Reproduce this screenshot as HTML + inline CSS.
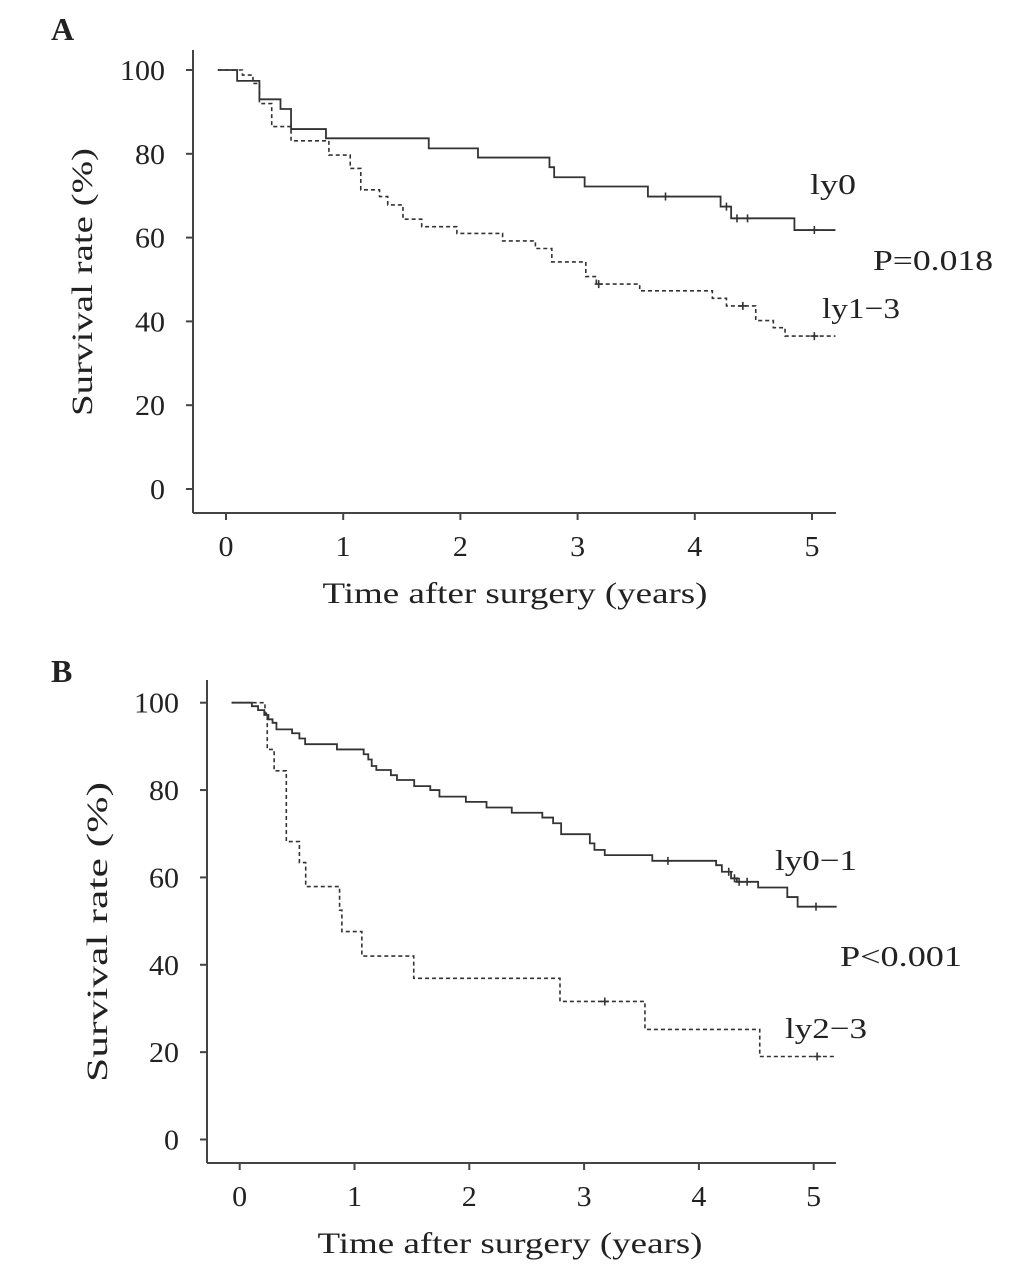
<!DOCTYPE html>
<html><head><meta charset="utf-8"><style>
body{margin:0;background:#fff}
svg{display:block}
text{font-family:"Liberation Serif",serif;fill:#222}
</style></head><body>
<svg id="c" width="1033" height="1267" viewBox="0 0 1033 1267"></svg>
<script>
// Panel A data: [time (years), survival (%)] step points
const aLy0 = [[0,100],[0.095,97.4],[0.285,93.0],[0.465,90.7],[0.555,85.9],[0.853,83.7],[1.73,81.3],[2.15,79.1],[2.76,76.8],[2.80,74.4],[3.06,72.2],[3.60,69.8],[4.22,67.4],[4.31,64.6],[4.85,61.8]];
const aLy0Censor = [3.75,4.27,4.36,4.45,5.02];
const aLy13 = [[0,100],[0.14,98.8],[0.23,96.8],[0.285,92.0],[0.39,86.5],[0.555,83.1],[0.878,79.7],[1.06,76.5],[1.15,71.4],[1.31,69.8],[1.38,67.8],[1.51,64.4],[1.67,62.6],[1.97,61.0],[2.36,59.2],[2.64,57.4],[2.78,54.2],[3.07,50.7],[3.16,48.9],[3.53,47.3],[4.15,45.5],[4.27,43.7],[4.52,40.2],[4.67,38.5],[4.77,36.5]];
const aLy13Censor = [3.18,4.41,5.02];
// Panel B data
const bLy01 = [[0,100],[0.106,99.2],[0.16,98.3],[0.214,97.2],[0.25,96.2],[0.286,95.4],[0.32,93.9],[0.456,93.0],[0.52,91.8],[0.57,90.5],[0.847,89.3],[1.08,88.2],[1.12,87.0],[1.15,85.5],[1.19,84.6],[1.317,83.4],[1.37,82.3],[1.52,80.9],[1.66,80.0],[1.74,78.5],[1.97,77.3],[2.15,76.0],[2.37,74.8],[2.636,73.7],[2.73,72.4],[2.80,69.9],[3.05,67.8],[3.09,66.3],[3.18,65.1],[3.594,63.8],[4.15,62.8],[4.2,61.3],[4.28,59.8],[4.33,59.0],[4.516,57.7],[4.77,55.5],[4.86,53.3]];
const bLy01Censor = [3.73,4.26,4.31,4.35,4.42,5.02];
const bLy23 = [[0,100],[0.22,97.6],[0.24,89.3],[0.30,84.4],[0.406,68.2],[0.52,63.4],[0.575,57.9],[0.87,52.5],[0.89,47.6],[1.064,42.0],[1.516,36.9],[2.79,31.6],[3.53,25.2],[4.53,19.0]];
const bLy23Censor = [3.18,5.03];
const yTicks = [0,20,40,60,80,100];
const xTicks = [0,1,2,3,4,5];
const tEnd = 5.2;

const NS="http://www.w3.org/2000/svg";
const svg=document.getElementById('c');
function el(tag,attrs,parent){const e=document.createElementNS(NS,tag);for(const k in attrs)e.setAttribute(k,attrs[k]);(parent||svg).appendChild(e);return e;}

function panel(P){
  const g=el('g',{});
  
  
  const X=t=>P.x0+t*P.xs, Y=s=>P.y0-s*P.ys;
  const ya=el('line',{x1:P.axX,y1:P.axTop,x2:P.axX,y2:P.axY,stroke:'#444','stroke-width':2},g);
  
  const xa=el('line',{x1:P.axX,y1:P.axY,x2:836,y2:P.axY,stroke:'#444','stroke-width':2},g);
  
  yTicks.forEach(v=>{
    el('line',{x1:P.axX-7,y1:Y(v),x2:P.axX,y2:Y(v),stroke:'#444','stroke-width':2},g);
    const s=String(v);
    const t=el('text',{x:P.axX-28,y:Y(v)+10,'text-anchor':'end','font-size':28,textLength:s.length*15,lengthAdjust:'spacingAndGlyphs'},g);t.textContent=s;
    
  });
  xTicks.forEach(v=>{
    el('line',{x1:X(v),y1:P.axY,x2:X(v),y2:P.axY+7,stroke:'#444','stroke-width':2},g);
    const t=el('text',{x:X(v),y:P.axY+43,'text-anchor':'middle','font-size':28,textLength:15,lengthAdjust:'spacingAndGlyphs'},g);t.textContent=v;
    
  });
  P.series.forEach(S=>{
    let d='M'+X(S.pts[0][0]-0.07)+','+Y(S.pts[0][1]);
    for(let i=1;i<S.pts.length;i++){d+=' H'+X(S.pts[i][0])+' V'+Y(S.pts[i][1]);}
    d+=' H'+X(tEnd);
    const p=el('path',{d:d,fill:'none',stroke:'#333','stroke-width':S.dash?1.6:1.8,'stroke-dasharray':S.dash?'4,3':'none'},g);
    
    const surv=t=>{let s=S.pts[0][1];S.pts.forEach(q=>{if(q[0]<=t)s=q[1];});return s;};
    S.cens.forEach(c=>{
      const m=el('path',{d:'M'+(X(c)-4)+','+Y(surv(c))+' h8 M'+X(c)+','+(Y(surv(c))-4)+' v8',stroke:'#333','stroke-width':1.6},g);
      
    });
  });
  const L=el('text',{x:P.letter[0],y:P.letter[1],'font-size':32,'font-weight':'bold'},g);L.textContent=P.letter[2];
  
  const yt=el('text',{x:0,y:0,'font-size':30,'text-anchor':'middle',textLength:P.yTitle[2],lengthAdjust:'spacingAndGlyphs',transform:'translate('+P.yTitle[0]+','+P.yTitle[1]+') rotate(-90)'},g);yt.textContent='Survival rate (%)';
  
  const xt=el('text',{x:P.xTitle[0],y:P.xTitle[1],'font-size':30,'text-anchor':'middle',textLength:385,lengthAdjust:'spacingAndGlyphs'},g);xt.textContent='Time after surgery (years)';
  
  P.labels.forEach(l=>{const t=el('text',{x:l[0],y:l[1],'font-size':29,textLength:l[4],lengthAdjust:'spacingAndGlyphs'},g);t.textContent=l[2];
    });
}

panel({name:'panel-a',x0:226,xs:117.2,y0:489,ys:4.19,axX:193,axTop:50,axY:513,
  series:[{name:'ly0',pts:aLy0,cens:aLy0Censor,dash:false},{name:'ly1-3',pts:aLy13,cens:aLy13Censor,dash:true}],
  letter:[51,40,'A'],yTitle:[92,282,268],xTitle:[515,603],
  labels:[[810,194,'ly0','legend-ly0',46],[873,270,'P=0.018','p-value',120],[822,318,'ly1−3','legend-ly1-3',78]]});
panel({name:'panel-b',x0:239.7,xs:114.8,y0:1139.5,ys:4.368,axX:207,axTop:680,axY:1163,
  series:[{name:'ly0-1',pts:bLy01,cens:bLy01Censor,dash:false},{name:'ly2-3',pts:bLy23,cens:bLy23Censor,dash:true}],
  letter:[51,682,'B'],yTitle:[107,932,300],xTitle:[510,1253],
  labels:[[775,870,'ly0−1','legend-ly0-1',82],[840,966,'P<0.001','p-value',122],[785,1038,'ly2−3','legend-ly2-3',82]]});
</script>
</body></html>
